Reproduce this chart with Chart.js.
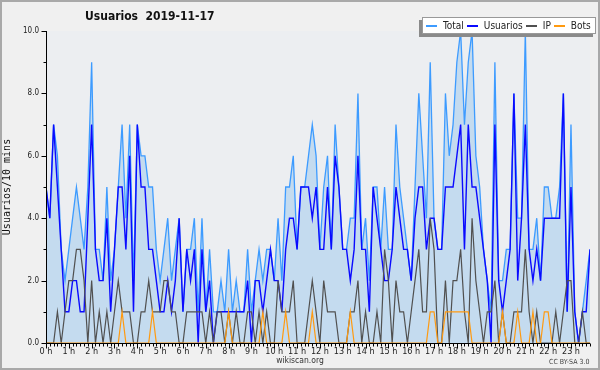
<!DOCTYPE html>
<html>
<head>
<meta charset="utf-8">
<script src="https://cdn.jsdelivr.net/npm/chart.js@4/dist/chart.umd.min.js"></script>
<style>
html, body { margin: 0; padding: 0; background: #f0f0f0; }
#wrap { position: relative; width: 600px; height: 370px; overflow: hidden; background: #f0f0f0;
        font-family: "DejaVu Sans Condensed", "DejaVu Sans", sans-serif; color: #222; }
#frame { position: absolute; left: 0; top: 0; width: 600px; height: 370px; box-sizing: border-box;
         border: 2px solid #a9a9a9; pointer-events: none; }
canvas { position: absolute; left: 0; top: 0; }
#title { position: absolute; left: 85px; top: 9px; font-weight: bold; font-size: 12px; white-space: pre; color: #111; }
#legend { position: absolute; left: 422px; top: 17px; height: 15px; padding: 0 4px 0 3px; background: #fff;
          border: 1px solid #999; box-shadow: -3px 3px 0 #8a8a8a; display: flex; align-items: center;
          font-size: 10px; white-space: nowrap; }
#legend .item { display: flex; align-items: center; margin-right: 3px; }
#legend .item:last-child { margin-right: 0; }
#legend .swatch { display: inline-block; width: 11px; height: 2px; margin-right: 6px; }
#site { position: absolute; left: 0; width: 600px; top: 355px; text-align: center; font-size: 8.5px; color: #333; }
#lic { position: absolute; left: 549px; top: 358px; font-size: 7px; color: #444; }
</style>
</head>
<body>
<div id="wrap">
  <canvas id="chart" width="600" height="370"></canvas>
  <div id="title">Usuarios  2019-11-17</div>
  <div id="legend"></div>
  <div id="site">wikiscan.org</div>
  <div id="lic">CC BY-SA 3.0</div>
  <div id="frame"></div>
</div>
<script>
// one value per 10 minutes, 0:00 .. 23:50
const hourLabels = ['0 h','1 h','2 h','3 h','4 h','5 h','6 h','7 h','8 h','9 h','10 h','11 h',
                    '12 h','13 h','14 h','15 h','16 h','17 h','18 h','19 h','20 h','21 h','22 h','23 h'];

const total = [
  5,4,7,6,3,2,3,4,5,4,3,5,9,3,3,2,5,2,3,5,7,4,7,2,
  7,6,6,5,5,3,2,3,4,2,3,4,1,3,3,4,1,4,1,3,1,1,2,
  1,3,1,2,1,1,3,1,2,3,2,3,3,2,4,2,5,5,6,3,5,5,6,7,
  6,3,5,6,3,7,5,3,3,4,4,8,3,4,2,5,5,3,5,3,3,7,5,4,
  3,2,5,8,6,4,9,4,3,3,8,6,7,9,10,7,9,10,6,5,3,2,1,
  9,2,2,3,3,8,4,4,10,3,3,4,2,5,5,4,4,5,8,1,7,1,0,1,2,3
];
const usuarios = [
  5,4,7,5,3,1,1,2,2,1,1,4,7,3,2,2,4,1,3,5,5,3,6,1,
  7,5,5,3,3,2,1,1,2,1,2,4,1,3,2,3,0,3,1,2,0,1,1,
  1,1,1,1,1,1,2,0,2,2,1,2,3,2,2,1,3,4,4,3,5,5,5,4,
  5,3,3,5,3,6,5,3,3,2,3,6,3,3,1,5,4,3,2,2,3,5,4,3,
  3,2,4,5,5,3,4,4,3,3,5,5,5,6,7,3,7,5,5,4,3,2,0,
  7,2,1,2,3,8,2,4,7,3,2,3,2,4,4,4,4,4,8,1,5,1,0,1,1,3
];
const ip = [
  0,0,0,1,0,1,2,2,3,3,2,0,2,0,1,0,1,0,1,2,1,1,1,0,
  0,1,1,2,1,1,1,2,2,1,1,0,0,1,1,1,1,1,0,1,0,1,1,
  0,1,0,1,0,0,1,1,0,1,0,1,0,0,2,1,1,1,2,0,0,0,1,2,
  1,0,2,1,1,1,0,0,0,1,1,2,0,1,0,0,1,0,3,2,0,2,1,1,
  0,1,2,3,1,1,4,3,0,0,2,0,2,2,3,1,0,4,2,1,0,1,1,
  2,0,1,0,0,1,1,1,3,1,0,1,0,0,0,0,1,0,1,2,2,0,0,1,0,0
];
const bots = [
  0,0,0,0,0,0,0,0,0,0,0,0,0,0,0,0,0,0,0,0,1,0,0,0,
  0,0,0,0,1,0,0,0,0,0,0,0,0,0,0,0,0,0,0,0,0,0,0,
  0,1,0,0,0,0,0,0,0,0,1,0,0,0,0,0,1,0,0,0,0,0,0,1,
  0,0,0,0,0,0,0,0,0,1,0,0,0,0,0,0,0,0,0,0,0,0,0,0,
  0,0,0,0,0,0,1,1,0,0,1,1,1,1,1,1,1,0,0,0,0,0,0,
  0,0,1,0,0,0,1,0,0,0,1,0,0,1,1,0,0,0,0,0,0,0,0,0,0,0
];

const yTicks = [0, 2, 4, 6, 8, 10];

function points(arr) {
    return arr.map((v, i) => ({ x: i, y: v }));
}

// plot background, then axes and small tick marks on top of the lines
const axesPlugin = {
    id: 'axes',
    beforeDatasetsDraw(chart) {
        const { ctx, chartArea: a } = chart;
        ctx.save();
        ctx.fillStyle = '#eceef1';
        ctx.fillRect(a.left, a.top, a.right - a.left, a.bottom - a.top);
        ctx.restore();
    },
    afterDatasetsDraw(chart) {
        const { ctx, chartArea: a, scales } = chart;
        const x = scales.x, y = scales.y;
        ctx.save();
        ctx.strokeStyle = '#000';
        ctx.lineWidth = 1;
        ctx.beginPath();
        const left = Math.round(a.left) + 0.5;
        const bottom = Math.round(a.bottom) + 0.5;
        ctx.moveTo(left, a.top);
        ctx.lineTo(left, bottom);
        ctx.lineTo(a.right, bottom);
        for (let i = 0; i < total.length; i++) {
            const px = Math.round(x.getPixelForValue(i)) + 0.5;
            const len = i % 6 === 0 ? 5 : 3;
            ctx.moveTo(px, bottom);
            ctx.lineTo(px, bottom + len);
        }
        for (let v = 0; v <= 10; v++) {
            const py = Math.round(y.getPixelForValue(v)) + 0.5;
            const len = v % 2 === 0 ? 5 : 3;
            ctx.moveTo(left - len, py);
            ctx.lineTo(left, py);
        }
        ctx.stroke();
        ctx.restore();
    }
};

const tickFont = { family: '"DejaVu Sans Condensed", "DejaVu Sans", sans-serif' };

const chart = new Chart(document.getElementById('chart'), {
    type: 'line',
    data: {
        datasets: [
            { label: 'Total', data: points(total), borderColor: '#3d9bff', backgroundColor: '#c4dbef',
              fill: 'origin', borderWidth: 1.3, order: 4 },
            { label: 'Usuarios', data: points(usuarios), borderColor: '#0a0aff', borderWidth: 1.4,
              fill: false, order: 3 },
            { label: 'IP', data: points(ip), borderColor: '#505050', borderWidth: 1.2, fill: false, order: 2 },
            { label: 'Bots', data: points(bots), borderColor: '#ff9a10', borderWidth: 1.2, fill: false, order: 1 }
        ]
    },
    options: {
        responsive: false,
        animation: false,
        devicePixelRatio: 1,
        layout: { padding: { left: 0, top: 31, right: 10, bottom: 0 } },
        elements: { point: { radius: 0 }, line: { tension: 0 } },
        plugins: { legend: { display: false }, tooltip: { enabled: false } },
        scales: {
            x: {
                type: 'linear', min: 0, max: total.length - 1,
                grid: { display: false, drawTicks: false, tickLength: 0 },
                border: { display: false },
                afterBuildTicks: s => { s.ticks = hourLabels.map((h, i) => ({ value: i * 6 })); },
                afterFit: s => { s.height = 27; },
                ticks: {
                    autoSkip: false, maxRotation: 0, padding: 3, color: '#222',
                    font: { ...tickFont, size: 9 },
                    callback: v => hourLabels[v / 6]
                }
            },
            y: {
                min: 0, max: 10,
                grid: { color: '#c8c8c8', drawTicks: false },
                border: { display: false },
                afterBuildTicks: s => { s.ticks = yTicks.map(v => ({ value: v })); },
                afterFit: s => { s.width = 46; },
                ticks: {
                    padding: 7, color: '#222',
                    font: { ...tickFont, size: 8 },
                    callback: v => v.toFixed(1)
                },
                title: {
                    display: true, text: 'Usuarios/10 mins', color: '#111',
                    padding: { top: 1, bottom: 0 },
                    font: { family: '"DejaVu Sans Mono", monospace', size: 10 }
                }
            }
        }
    },
    plugins: [axesPlugin]
});

// html legend built from the datasets
const legend = document.getElementById('legend');
chart.data.datasets.forEach(ds => {
    const item = document.createElement('span');
    item.className = 'item';
    item.innerHTML = `<span class="swatch" style="background:${ds.borderColor}"></span>${ds.label}`;
    legend.appendChild(item);
});
</script>
</body>
</html>
